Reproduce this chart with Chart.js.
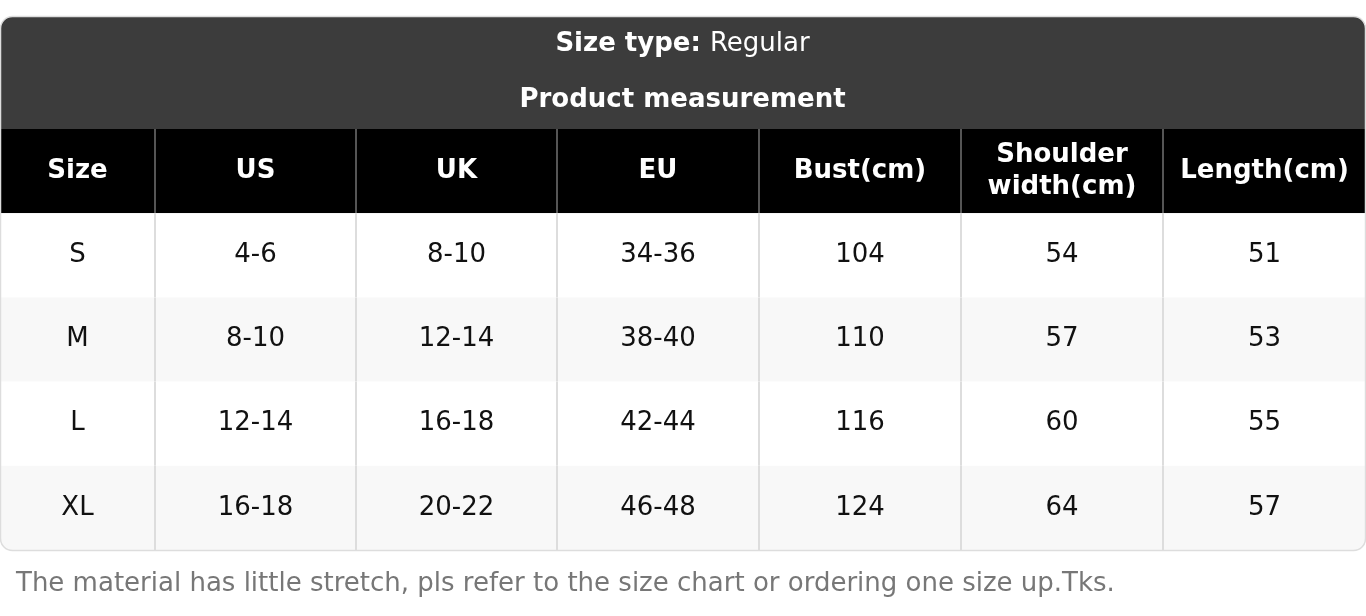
<!DOCTYPE html>
<html>
<head>
<meta charset="utf-8">
<script src="https://cdn.jsdelivr.net/npm/chart.js@4.4.0/dist/chart.umd.min.js"></script>
<style>
  body { margin: 0; background: #ffffff; }
  canvas { display: block; }
</style>
</head>
<body>
<canvas id="sizeChart" width="1366" height="616"></canvas>
<script>
const sizeType = 'Regular';
const tableTitle = 'Product measurement';
const columns = ['Size', 'US', 'UK', 'EU', 'Bust(cm)', 'Shoulder\nwidth(cm)', 'Length(cm)'];
const sizes = ['S', 'M', 'L', 'XL'];
const usSizes = ['4-6', '8-10', '12-14', '16-18'];
const ukSizes = ['8-10', '12-14', '16-18', '20-22'];
const euSizes = ['34-36', '38-40', '42-44', '46-48'];
const bust = [104, 110, 116, 124];
const shoulder = [54, 57, 60, 64];
const length = [51, 53, 55, 57];
const note = 'The material has little stretch, pls refer to the size chart or ordering one size up.Tks.';

// column edges along the x scale (style, not data)
const colEdges = [0, 155, 356, 557, 759, 961, 1163, 1366];
const FONT = '"DejaVu Sans", sans-serif';

const rowLabels = ['header'].concat(sizes);
const tableRows = sizes.map((s, i) => [s, usSizes[i], ukSizes[i], euSizes[i], bust[i], shoulder[i], length[i]]);

function roundRect(ctx, x, y, w, h, r) {
    ctx.beginPath();
    ctx.moveTo(x + r.tl, y);
    ctx.lineTo(x + w - r.tr, y);
    ctx.arcTo(x + w, y, x + w, y + r.tr, r.tr);
    ctx.lineTo(x + w, y + h - r.br);
    ctx.arcTo(x + w, y + h, x + w - r.br, y + h, r.br);
    ctx.lineTo(x + r.bl, y + h);
    ctx.arcTo(x, y + h, x, y + h - r.bl, r.bl);
    ctx.lineTo(x, y + r.tl);
    ctx.arcTo(x, y, x + r.tl, y, r.tl);
    ctx.closePath();
}

const tablePlugin = {
    id: 'tablePlugin',
    afterDraw(chart) {
        const ctx = chart.ctx;
        const xs = chart.scales.x;
        const ys = chart.scales.y;
        const band = ys.getPixelForValue(1) - ys.getPixelForValue(0);
        const top = ys.getPixelForValue(0) - band / 2;
        const bottom = ys.getPixelForValue(rowLabels.length - 1) + band / 2;
        const left = xs.getPixelForValue(colEdges[0]);
        const right = xs.getPixelForValue(colEdges[colEdges.length - 1]) - 1;
        ctx.save();

        // body + outline
        roundRect(ctx, left + 0.5, 16.5, right - left, bottom - 16, {tl: 12, tr: 12, br: 12, bl: 12});
        ctx.fillStyle = '#ffffff';
        ctx.fill();
        ctx.clip();

        // title block
        ctx.fillStyle = '#3c3c3c';
        ctx.fillRect(left, 16, right - left + 1, top - 16);
        ctx.fillStyle = '#ffffff';
        ctx.textBaseline = 'middle';
        ctx.font = 'bold 26px ' + FONT;
        const a = 'Size type: ';
        ctx.font = 'bold 26px ' + FONT;
        const wa = ctx.measureText(a).width;
        ctx.font = '26px ' + FONT;
        const wb = ctx.measureText(sizeType).width;
        const cx = (left + right) / 2;
        ctx.textAlign = 'left';
        ctx.font = 'bold 26px ' + FONT;
        ctx.fillText(a, cx - (wa + wb) / 2, 44);
        ctx.font = '26px ' + FONT;
        ctx.fillText(sizeType, cx - (wa + wb) / 2 + wa, 44);
        ctx.textAlign = 'center';
        ctx.font = 'bold 26px ' + FONT;
        ctx.fillText(tableTitle, cx, 100);

        // rows
        rowLabels.forEach((lab, r) => {
            const yc = ys.getPixelForValue(r);
            const y0 = yc - band / 2;
            if (r === 0) ctx.fillStyle = '#000000';
            else ctx.fillStyle = r % 2 === 0 ? '#f8f8f8' : '#ffffff';
            ctx.fillRect(left, y0, right - left + 1, band);
            for (let c = 0; c < columns.length; c++) {
                const x0 = xs.getPixelForValue(colEdges[c]);
                const x1 = xs.getPixelForValue(colEdges[c + 1]);
                const xm = (x0 + x1) / 2;
                if (r === 0) {
                    ctx.fillStyle = '#ffffff';
                    ctx.font = 'bold 26px ' + FONT;
                    const lines = columns[c].split('\n');
                    lines.forEach((ln, k) => {
                        ctx.fillText(ln, xm, yc + (k - (lines.length - 1) / 2) * 32);
                    });
                } else {
                    ctx.fillStyle = '#111111';
                    ctx.font = '26px ' + FONT;
                    ctx.fillText(String(tableRows[r - 1][c]), xm, yc);
                }
                if (c > 0) {
                    ctx.strokeStyle = r === 0 ? '#555555' : '#dddddd';
                    ctx.lineWidth = 2;
                    ctx.beginPath();
                    ctx.moveTo(x0, y0);
                    ctx.lineTo(x0, y0 + band);
                    ctx.stroke();
                }
            }
        });
        ctx.restore();

        ctx.save();
        roundRect(ctx, left + 0.5, 16.5, right - left, bottom - 16, {tl: 12, tr: 12, br: 12, bl: 12});
        ctx.strokeStyle = '#dddddd';
        ctx.lineWidth = 1.5;
        ctx.stroke();

        ctx.fillStyle = '#777777';
        ctx.font = '26px ' + FONT;
        ctx.textAlign = 'left';
        ctx.textBaseline = 'middle';
        ctx.fillText(note, 16, 584);
        ctx.restore();
    }
};

new Chart(document.getElementById('sizeChart').getContext('2d'), {
    type: 'scatter',
    data: { datasets: [{ data: [], showLine: false }] },
    options: {
        responsive: false,
        animation: false,
        devicePixelRatio: 1,
        layout: { padding: { top: 129, bottom: 66, left: 0, right: 0 } },
        plugins: { legend: { display: false }, tooltip: { enabled: false } },
        scales: {
            x: { type: 'linear', min: colEdges[0], max: colEdges[colEdges.length - 1], display: false },
            y: { type: 'category', labels: rowLabels, offset: true, display: false }
        }
    },
    plugins: [tablePlugin]
});
</script>
</body>
</html>
